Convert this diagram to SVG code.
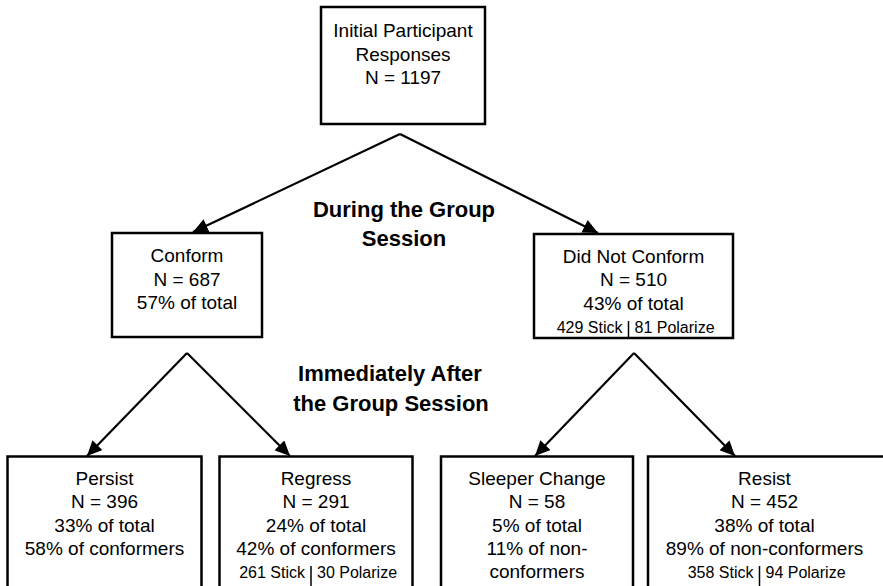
<svg xmlns="http://www.w3.org/2000/svg" width="883" height="586" viewBox="0 0 883 586">
<defs>
<style>
.box{fill:#fff;stroke:#000;stroke-width:2.5}
.t{font-family:"Liberation Sans",Arial,sans-serif;font-size:19px;fill:#000;text-anchor:middle}
.s{font-family:"Liberation Sans",Arial,sans-serif;font-size:16px;fill:#000}
.b{font-family:"Liberation Sans",Arial,sans-serif;font-size:22px;font-weight:bold;fill:#000;text-anchor:middle}
.c{stroke:#000;stroke-width:2.2;fill:none}
.sep{stroke:#000;stroke-width:1.5}
</style>
<marker id="ah" markerUnits="userSpaceOnUse" markerWidth="16" markerHeight="14" refX="15" refY="7" orient="auto">
<path d="M0,0 L15,7 L0,14 z" fill="#000"/>
</marker>
</defs>
<rect width="883" height="586" fill="#fff"/>
<g id="connectors">
<path class="c" d="M400,134 L193,232" marker-end="url(#ah)"/>
<path class="c" d="M400,134 L598,233" marker-end="url(#ah)"/>
<path class="c" d="M187,353 L87,456" marker-end="url(#ah)"/>
<path class="c" d="M187,353 L290,456" marker-end="url(#ah)"/>
<path class="c" d="M634,353 L535,456" marker-end="url(#ah)"/>
<path class="c" d="M634,353 L735,456" marker-end="url(#ah)"/>
</g>
<g id="label-during">
<text class="b" x="404" y="217">During the Group</text>
<text class="b" x="404" y="246">Session</text>
</g>
<g id="label-after">
<text class="b" x="390" y="381">Immediately After</text>
<text class="b" x="391" y="411">the Group Session</text>
</g>
<g id="node-initial">
<rect class="box" x="321" y="7" width="164" height="117"/>
<text class="t" x="403" y="37">Initial Participant</text>
<text class="t" x="403" y="61">Responses</text>
<text class="t" x="403" y="84">N = 1197</text>
</g>
<g id="node-conform">
<rect class="box" x="112" y="233" width="150" height="104"/>
<text class="t" x="187" y="262">Conform</text>
<text class="t" x="187" y="285.5">N = 687</text>
<text class="t" x="187" y="309">57% of total</text>
</g>
<g id="node-notconform">
<rect class="box" x="534" y="234" width="199" height="104"/>
<text class="t" x="633.5" y="262.5">Did Not Conform</text>
<text class="t" x="633.5" y="286">N = 510</text>
<text class="t" x="633.5" y="310">43% of total</text>
<text class="s" x="622.5" y="333" text-anchor="end">429 Stick</text>
<text class="s" x="634.5" y="333">81 Polarize</text>
<line class="sep" x1="628.5" y1="321" x2="628.5" y2="338"/>
</g>
<g id="node-persist">
<rect class="box" x="7.5" y="456.5" width="194" height="140"/>
<text class="t" x="104.5" y="485">Persist</text>
<text class="t" x="104.5" y="508">N = 396</text>
<text class="t" x="104.5" y="531.5">33% of total</text>
<text class="t" x="104.5" y="555">58% of conformers</text>
</g>
<g id="node-regress">
<rect class="box" x="219.5" y="456.5" width="193" height="140"/>
<text class="t" x="316" y="485">Regress</text>
<text class="t" x="316" y="508">N = 291</text>
<text class="t" x="316" y="531.5">24% of total</text>
<text class="t" x="316" y="555">42% of conformers</text>
<text class="s" x="305" y="578" text-anchor="end">261 Stick</text>
<text class="s" x="317" y="578">30 Polarize</text>
<line class="sep" x1="311" y1="566" x2="311" y2="586"/>
</g>
<g id="node-sleeper">
<rect class="box" x="441" y="456.5" width="192" height="140"/>
<text class="t" x="537" y="485">Sleeper Change</text>
<text class="t" x="537" y="508">N = 58</text>
<text class="t" x="537" y="531.5">5% of total</text>
<text class="t" x="537" y="555">11% of non-</text>
<text class="t" x="537" y="578">conformers</text>
</g>
<g id="node-resist">
<rect class="box" x="648" y="456.5" width="245" height="140"/>
<text class="t" x="764.5" y="485">Resist</text>
<text class="t" x="764.5" y="508">N = 452</text>
<text class="t" x="764.5" y="531.5">38% of total</text>
<text class="t" x="764.5" y="555">89% of non-conformers</text>
<text class="s" x="753.5" y="578" text-anchor="end">358 Stick</text>
<text class="s" x="765.5" y="578">94 Polarize</text>
<line class="sep" x1="759.5" y1="566" x2="759.5" y2="586"/>
</g>
</svg>
